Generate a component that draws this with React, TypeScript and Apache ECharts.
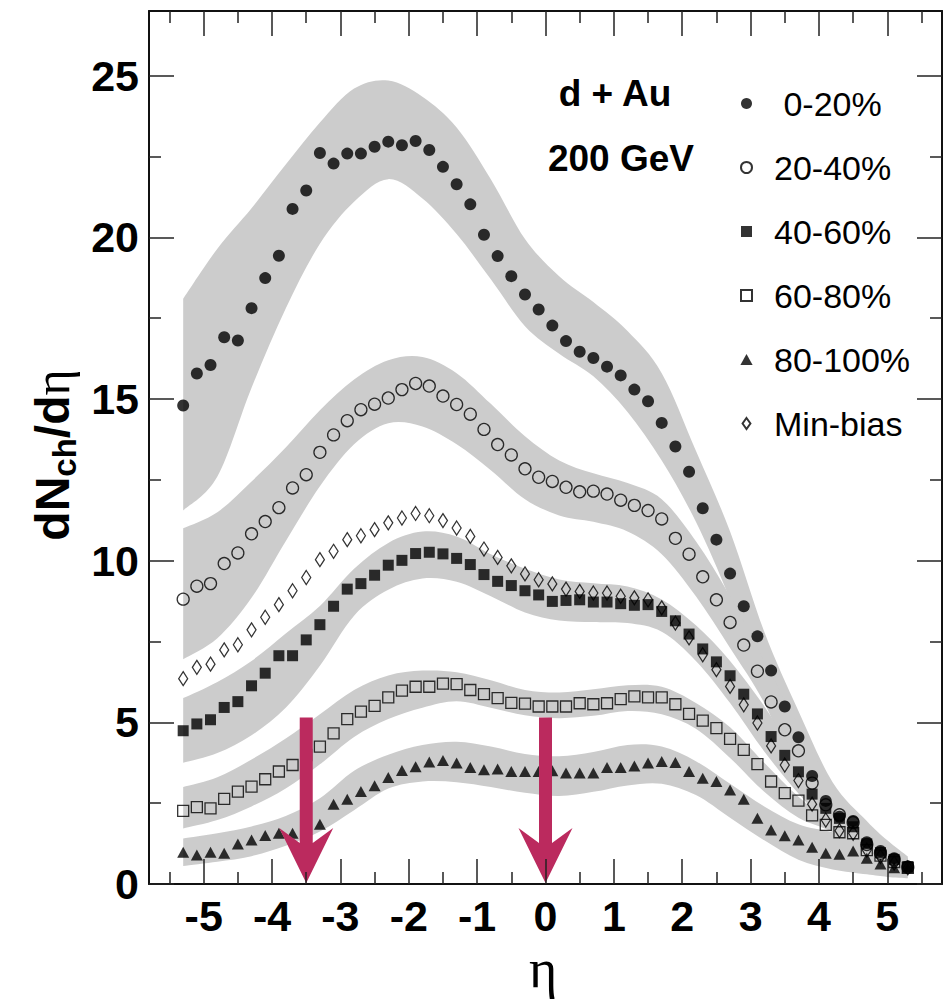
import React, { useEffect, useRef } from 'react';
import * as echarts from 'echarts';

// ---------------- data ----------------
const eta = [-5.3, -5.1, -4.9, -4.7, -4.5, -4.3, -4.1, -3.9, -3.7, -3.5, -3.3, -3.1, -2.9, -2.7, -2.5, -2.3, -2.1, -1.9, -1.7, -1.5, -1.3, -1.1, -0.9, -0.7, -0.5, -0.3, -0.1, 0.1, 0.3, 0.5, 0.7, 0.9, 1.1, 1.3, 1.5, 1.7, 1.9, 2.1, 2.3, 2.5, 2.7, 2.9, 3.1, 3.3, 3.5, 3.7, 3.9, 4.1, 4.3, 4.5, 4.7, 4.9, 5.1, 5.3];

const cent0_20 = [14.80, 15.79, 16.05, 16.91, 16.81, 17.81, 18.74, 19.43, 20.88, 21.45, 22.61, 22.28, 22.59, 22.59, 22.80, 22.96, 22.85, 22.98, 22.70, 22.18, 21.64, 21.02, 20.08, 19.42, 18.80, 18.23, 17.77, 17.27, 16.79, 16.46, 16.27, 16.00, 15.73, 15.29, 14.93, 14.26, 13.53, 12.75, 11.62, 10.65, 9.60, 8.59, 7.66, 6.60, 5.49, 4.54, 3.34, 2.57, 2.08, 1.95, 1.29, 1.02, 0.80, 0.54];
const cent20_40 = [8.81, 9.21, 9.29, 9.91, 10.24, 10.83, 11.21, 11.64, 12.25, 12.66, 13.35, 13.89, 14.33, 14.67, 14.84, 15.03, 15.29, 15.48, 15.40, 15.09, 14.83, 14.53, 14.06, 13.59, 13.27, 12.84, 12.58, 12.45, 12.27, 12.13, 12.15, 12.06, 11.87, 11.71, 11.55, 11.29, 10.69, 10.20, 9.50, 8.79, 8.09, 7.39, 6.58, 5.63, 4.77, 4.12, 3.12, 2.45, 2.14, 1.90, 1.22, 0.95, 0.75, 0.52];
const cent40_60 = [4.74, 4.95, 5.08, 5.46, 5.64, 6.13, 6.52, 7.06, 7.06, 7.55, 8.02, 8.59, 9.12, 9.29, 9.55, 9.86, 10.01, 10.22, 10.26, 10.21, 10.07, 9.88, 9.57, 9.36, 9.23, 9.07, 8.94, 8.74, 8.77, 8.79, 8.72, 8.72, 8.67, 8.62, 8.64, 8.43, 8.14, 7.73, 7.27, 6.87, 6.44, 5.87, 5.26, 4.56, 3.98, 3.47, 2.78, 2.34, 2.03, 1.77, 1.24, 0.97, 0.76, 0.54];
const cent60_80 = [2.26, 2.38, 2.34, 2.63, 2.86, 3.01, 3.24, 3.48, 3.68, 3.99, 4.25, 4.66, 5.10, 5.33, 5.51, 5.77, 5.98, 6.10, 6.10, 6.20, 6.18, 6.00, 5.87, 5.75, 5.60, 5.58, 5.49, 5.49, 5.49, 5.59, 5.56, 5.59, 5.72, 5.80, 5.77, 5.77, 5.56, 5.26, 5.05, 4.82, 4.49, 4.15, 3.71, 3.17, 2.81, 2.58, 2.12, 1.83, 1.60, 1.57, 1.05, 0.88, 0.68, 0.50];
const cent80_100 = [0.98, 0.90, 0.98, 0.95, 1.24, 1.36, 1.50, 1.57, 1.57, 1.70, 1.85, 2.47, 2.62, 2.86, 3.04, 3.29, 3.51, 3.63, 3.77, 3.82, 3.74, 3.60, 3.53, 3.56, 3.48, 3.48, 3.48, 3.50, 3.43, 3.43, 3.43, 3.60, 3.60, 3.65, 3.74, 3.79, 3.76, 3.48, 3.27, 3.17, 2.91, 2.62, 2.03, 1.67, 1.49, 1.36, 1.14, 0.95, 0.92, 1.02, 0.80, 0.62, 0.50, 0.50];
const minBias = [6.35, 6.70, 6.80, 7.24, 7.40, 7.86, 8.25, 8.64, 9.07, 9.48, 10.03, 10.29, 10.65, 10.77, 10.96, 11.17, 11.32, 11.46, 11.39, 11.24, 11.01, 10.75, 10.36, 10.10, 9.84, 9.59, 9.41, 9.28, 9.12, 9.05, 9.00, 9.00, 8.90, 8.85, 8.79, 8.54, 8.07, 7.61, 7.09, 6.63, 6.11, 5.54, 4.98, 4.27, 3.68, 3.20, 2.47, 1.98, 1.65, 1.57, 1.05, 0.85, 0.65, 0.50];

// systematic-error bands (edges read at these eta nodes)
const bandEta = [-5.3, -4.8, -4.3, -3.8, -3.3, -2.8, -2.3, -1.8, -1.3, -0.8, -0.3, 0.2, 0.7, 1.2, 1.7, 2.2, 2.7, 3.2, 3.7, 4.2, 4.7, 5.0, 5.3];
const band0_20Hi = [18.1, 19.65, 20.9, 22.25, 23.55, 24.6, 24.85, 24.35, 23.4, 21.8, 19.95, 18.8, 18.0, 17.1, 15.8, 13.4, 10.9, 7.8, 5.35, 3.15, 1.95, 1.35, 0.85];
const band0_20Lo = [11.55, 12.6, 15.35, 17.8, 19.8, 21.1, 21.8, 21.2, 20.1, 18.7, 17.25, 16.4, 15.7, 14.6, 13.1, 11.2, 8.8, 6.0, 3.9, 2.0, 1.05, 0.7, 0.4];
const band20_40Hi = [11.0, 11.5, 12.45, 13.5, 14.65, 15.6, 16.2, 16.3, 15.8, 14.85, 13.85, 13.1, 12.7, 12.4, 11.9, 10.6, 8.9, 6.9, 4.9, 3.0, 1.8, 1.3, 0.8];
const band20_40Lo = [6.95, 7.6, 8.85, 10.6, 12.3, 13.6, 14.25, 14.15, 13.6, 12.8, 11.9, 11.4, 11.2, 10.9, 10.2, 8.9, 7.3, 5.6, 3.3, 1.9, 1.1, 0.75, 0.45];
const band40_60Hi = [5.75, 6.25, 6.9, 7.75, 8.6, 9.75, 10.55, 10.9, 10.75, 10.2, 9.75, 9.42, 9.3, 9.2, 8.8, 8.0, 6.9, 5.5, 3.9, 2.5, 1.5, 1.1, 0.8];
const band40_60Lo = [3.75, 4.05, 4.6, 5.45, 6.75, 8.3, 9.1, 9.45, 9.35, 8.9, 8.4, 8.15, 8.1, 8.07, 7.8, 6.9, 5.6, 4.1, 2.8, 1.7, 1.0, 0.7, 0.4];
const band60_80Hi = [3.0, 3.3, 3.85, 4.5, 5.25, 6.0, 6.45, 6.6, 6.55, 6.3, 6.0, 5.92, 6.02, 6.15, 6.1, 5.6, 4.85, 3.75, 2.7, 1.9, 1.3, 0.95, 0.7];
const band60_80Lo = [1.72, 1.98, 2.4, 2.95, 3.7, 4.55, 5.1, 5.45, 5.65, 5.45, 5.22, 5.13, 5.2, 5.35, 5.25, 4.8, 3.9, 2.85, 2.05, 1.6, 0.8, 0.5, 0.3];
const band80_100Hi = [1.41, 1.57, 1.78, 2.1, 2.65, 3.5, 4.0, 4.3, 4.4, 4.25, 4.02, 3.95, 4.08, 4.3, 4.25, 3.8, 3.1, 2.4, 1.85, 1.6, 1.3, 0.95, 0.7];
const band80_100Lo = [0.56, 0.69, 0.86, 1.18, 1.62, 2.28, 2.95, 3.17, 3.15, 3.0, 2.82, 2.72, 2.85, 3.05, 3.1, 2.75, 2.05, 1.35, 0.75, 0.45, 0.3, 0.22, 0.18];

const xMajorTicks = [-5, -4, -3, -2, -1, 0, 1, 2, 3, 4, 5];
const xMinorTicks = [-5.5, -4.5, -3.5, -2.5, -1.5, -0.5, 0.5, 1.5, 2.5, 3.5, 4.5, 5.5];
const yMajorTicks = [0, 5, 10, 15, 20, 25];
const yMinorTicks = [2.5, 7.5, 12.5, 17.5, 22.5];

const arrowEta = [-3.5, 0];
const arrowTop = [5.15, 5.15];

const legendNames = ['0-20%', '20-40%', '40-60%', '60-80%', '80-100%', 'Min-bias'];

// ---------------- helpers ----------------
const SANS = "'Liberation Sans', Arial, Helvetica, sans-serif";
const SERIF = "'Liberation Serif', 'Times New Roman', serif";
const BAND = '#cccccc';

const ICON_SQUARE = 'path://M0,0L10,0L10,10L0,10Z';
const ICON_TRIANGLE = 'path://M5,0L10,9L0,9Z';
const ICON_DIAMOND = 'path://M5,0L10,7L5,14L0,7Z';

function smoothSeg(pts: number[][]): string {
  let d = '';
  for (let i = 0; i < pts.length - 1; i++) {
    const p0 = pts[Math.max(i - 1, 0)];
    const p1 = pts[i];
    const p2 = pts[i + 1];
    const p3 = pts[Math.min(i + 2, pts.length - 1)];
    const c1x = p1[0] + (p2[0] - p0[0]) / 6;
    const c1y = p1[1] + (p2[1] - p0[1]) / 6;
    const c2x = p2[0] - (p3[0] - p1[0]) / 6;
    const c2y = p2[1] - (p3[1] - p1[1]) / 6;
    d += ` C${c1x},${c1y} ${c2x},${c2y} ${p2[0]},${p2[1]}`;
  }
  return d;
}

function bandSeries(name: string, lo: number[], hi: number[]) {
  return {
    type: 'custom',
    name,
    silent: true,
    z: 1,
    data: bandEta.map((e, i) => [e, lo[i], hi[i]]),
    encode: { x: 0, y: [1, 2] },
    renderItem: (params: any, api: any) => {
      if (params.dataIndex !== 0) return null;
      const hiPts = bandEta.map((e, i) => api.coord([e, hi[i]]));
      const loPts = bandEta.map((e, i) => api.coord([e, lo[i]])).reverse();
      const d =
        `M${loPts[loPts.length - 1][0]},${loPts[loPts.length - 1][1]} L${hiPts[0][0]},${hiPts[0][1]}` +
        smoothSeg(hiPts) +
        ` L${loPts[0][0]},${loPts[0][1]}` +
        smoothSeg(loPts) +
        ' Z';
      return { type: 'path', shape: { pathData: d }, style: { fill: BAND, stroke: null } };
    },
  };
}

function scatterSeries(name: string, vals: number[], symbol: string, size: any, filled: boolean) {
  return {
    type: 'scatter',
    name,
    silent: true,
    z: 3,
    symbol,
    symbolSize: size,
    data: eta.map((e, i) => [e, vals[i]]),
    itemStyle: filled
      ? { color: '#000', borderWidth: 0 }
      : { color: 'rgba(0,0,0,0)', borderColor: '#000', borderWidth: 1.3 },
  };
}

function xAxis(position: string, ticks: number[], len: number, main: boolean) {
  return {
    type: 'value',
    position,
    min: -5.8,
    max: 5.8,
    z: 5,
    axisLine: { show: main, onZero: false, lineStyle: { color: '#111', width: 2 } },
    axisTick: { show: true, inside: true, length: len, customValues: ticks, lineStyle: { color: '#222', width: 1.5 } },
    axisLabel:
      main && position === 'bottom'
        ? { show: true, customValues: ticks, margin: 10, fontSize: 43, fontWeight: 'bold', fontFamily: SANS, color: '#000' }
        : { show: false },
    splitLine: { show: false },
  };
}

function yAxis(position: string, ticks: number[], len: number, main: boolean) {
  return {
    type: 'value',
    position,
    min: 0,
    max: 27,
    z: 5,
    axisLine: { show: main, onZero: false, lineStyle: { color: '#111', width: 2 } },
    axisTick: { show: true, inside: true, length: len, customValues: ticks, lineStyle: { color: '#222', width: 1.5 } },
    axisLabel:
      main && position === 'left'
        ? { show: true, customValues: ticks, margin: 10, fontSize: 43, fontWeight: 'bold', fontFamily: SANS, color: '#000' }
        : { show: false },
    splitLine: { show: false },
  };
}

export default function App() {
  const ref = useRef<HTMLDivElement>(null);

  useEffect(() => {
    if (!ref.current) return;
    const chart = echarts.init(ref.current, null, { renderer: 'svg' });

    const option: any = {
      animation: false,
      backgroundColor: '#ffffff',
      grid: { left: 149, right: 7, top: 11, bottom: 116, containLabel: false },
      xAxis: [
        xAxis('bottom', xMajorTicks, 25, true),
        xAxis('bottom', xMinorTicks, 12, false),
        xAxis('top', xMajorTicks, 25, true),
        xAxis('top', xMinorTicks, 12, false),
      ],
      yAxis: [
        yAxis('left', yMajorTicks, 25, true),
        yAxis('left', yMinorTicks, 12, false),
        yAxis('right', yMajorTicks, 25, true),
        yAxis('right', yMinorTicks, 12, false),
      ],
      legend: {
        orient: 'vertical',
        left: 735,
        top: 78.5,
        padding: 5,
        itemWidth: 45,
        itemHeight: 11,
        itemGap: 24,
        selectedMode: false,
        data: [
          { name: legendNames[0], icon: 'circle' },
          { name: legendNames[1], icon: 'circle' },
          { name: legendNames[2], icon: ICON_SQUARE },
          { name: legendNames[3], icon: ICON_SQUARE },
          { name: legendNames[4], icon: ICON_TRIANGLE },
          { name: legendNames[5], icon: ICON_DIAMOND },
        ],
        formatter: (n: string) => (n === '0-20%' ? '\u00a00-20%' : n),
        textStyle: { fontSize: 34, lineHeight: 40, color: '#000', fontFamily: SANS },
      },
      graphic: [
        {
          type: 'text',
          x: 615,
          y: 93,
          style: { text: 'd + Au', fontSize: 37, fontWeight: 'bold', fontFamily: SANS, fill: '#000', align: 'center', verticalAlign: 'middle' },
        },
        {
          type: 'text',
          x: 621,
          y: 158,
          style: { text: '200 GeV', fontSize: 37, fontWeight: 'bold', fontFamily: SANS, fill: '#000', align: 'center', verticalAlign: 'middle' },
        },
        {
          type: 'text',
          x: 543,
          y: 969,
          style: { text: 'η', fontSize: 54, fontFamily: SERIF, fill: '#000', align: 'center', verticalAlign: 'middle' },
        },
        {
          type: 'text',
          x: 52,
          y: 455,
          rotation: Math.PI / 2,
          style: {
            text: '{a|dN}{b|ch}{a|/d}{c|η}',
            align: 'center',
            verticalAlign: 'middle',
            fill: '#000',
            rich: {
              a: { fontSize: 48, fontWeight: 'bold', fontFamily: SANS, lineHeight: 58, fill: '#000' },
              b: { fontSize: 33, fontWeight: 'bold', fontFamily: SANS, lineHeight: 33, verticalAlign: 'bottom', fill: '#000' },
              c: { fontSize: 50, fontFamily: SERIF, lineHeight: 58, fill: '#000' },
            },
          },
        },
      ],
      series: [
        bandSeries('band 0-20%', band0_20Lo, band0_20Hi),
        bandSeries('band 20-40%', band20_40Lo, band20_40Hi),
        bandSeries('band 40-60%', band40_60Lo, band40_60Hi),
        bandSeries('band 60-80%', band60_80Lo, band60_80Hi),
        bandSeries('band 80-100%', band80_100Lo, band80_100Hi),
        scatterSeries('Min-bias', minBias, 'diamond', [9, 14], false),
        scatterSeries('80-100%', cent80_100, 'triangle', [12, 11], true),
        scatterSeries('60-80%', cent60_80, 'rect', 11, false),
        scatterSeries('40-60%', cent40_60, 'rect', 11, true),
        scatterSeries('20-40%', cent20_40, 'circle', 12, false),
        scatterSeries('0-20%', cent0_20, 'circle', 12, true),
        {
          type: 'custom',
          name: 'arrows',
          silent: true,
          z: 4,
          data: arrowEta.map((e, i) => [e, arrowTop[i]]),
          encode: { x: 0, y: 1 },
          renderItem: (params: any, api: any) => {
            const top = api.coord([api.value(0), api.value(1)]);
            const tip = api.coord([api.value(0), 0]);
            const x = tip[0];
            const ty = tip[1];
            return {
              type: 'polygon',
              shape: {
                points: [
                  [x - 6.5, top[1]],
                  [x - 6.5, ty - 41],
                  [x - 27, ty - 56],
                  [x, ty - 1],
                  [x + 27, ty - 56],
                  [x + 6.5, ty - 41],
                  [x + 6.5, top[1]],
                ],
              },
              style: { fill: '#bb2a5e', stroke: null },
            };
          },
        },
      ],
    };

    chart.setOption(option);
    return () => chart.dispose();
  }, []);

  return (
    <div
      ref={ref}
      style={{ position: 'absolute', left: 0, top: 0, width: 949, height: 1000, background: '#fff' }}
    />
  );
}
